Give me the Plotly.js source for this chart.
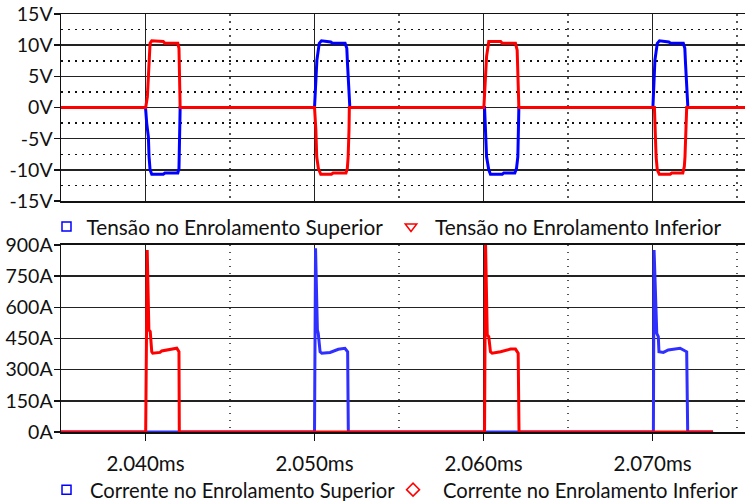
<!DOCTYPE html>
<html>
<head>
<meta charset="utf-8">
<script src="https://cdn.plot.ly/plotly-3.0.1.min.js"></script>
<style>html,body{margin:0;padding:0;background:#fff;}#chart{width:745px;height:501px;}</style>
</head>
<body>
<div id="chart"></div>
<script>
// ---- data (time in ms, value) ----
const tensaoSuperior = [
  [2.035,0],
  [2.04000,0],[2.04007,-2.5],[2.04017,-4.7],[2.04021,-7.9],[2.04027,-10.0],[2.04037,-10.7],[2.04105,-10.7],[2.04115,-10.5],[2.04191,-10.5],[2.04198,-9.8],[2.04200,-7.9],[2.04204,-3.6],[2.04205,0],
  [2.05000,0],[2.05008,4.4],[2.05014,7.6],[2.05028,10.3],[2.05041,10.7],[2.05096,10.5],[2.05106,10.3],[2.05181,10.3],[2.05191,9.5],[2.05195,7.1],[2.05205,1.7],[2.05209,0],
  [2.06006,0],[2.06012,-5.2],[2.06018,-7.9],[2.06031,-10.0],[2.06041,-10.7],[2.06111,-10.7],[2.06120,-10.5],[2.06185,-10.5],[2.06195,-9.8],[2.06203,-7.9],[2.06209,0],
  [2.07002,0],[2.07008,4.4],[2.07014,7.6],[2.07028,10.3],[2.07041,10.7],[2.07096,10.5],[2.07107,10.3],[2.07182,10.3],[2.07191,9.5],[2.07195,7.1],[2.07205,1.7],[2.07209,0],
  [2.0755,0]
];
const tensaoInferior = [
  [2.035,0],
  [2.04001,0],[2.04011,1.7],[2.04017,4.4],[2.04021,7.6],[2.04027,10.3],[2.04037,10.7],[2.04105,10.6],[2.04115,10.3],[2.04191,10.3],[2.04198,9.5],[2.04199,7.1],[2.04204,1.7],[2.04205,0],
  [2.05000,0],[2.05008,-3.6],[2.05013,-7.9],[2.05023,-9.8],[2.05037,-10.7],[2.05100,-10.7],[2.05110,-10.5],[2.05186,-10.5],[2.05194,-9.8],[2.05199,-7.9],[2.05204,-3.6],[2.05206,0],
  [2.06002,0],[2.06012,5.5],[2.06018,8.2],[2.06031,10.6],[2.06101,10.6],[2.06111,10.3],[2.06189,10.3],[2.06199,9.2],[2.06203,4.4],[2.06209,0],
  [2.07011,0],[2.07015,-3.6],[2.07021,-7.9],[2.07028,-10.0],[2.07040,-10.7],[2.07104,-10.7],[2.07114,-10.5],[2.07179,-10.5],[2.07188,-9.5],[2.07192,-7.9],[2.07202,0],
  [2.0755,0]
];
const correnteSuperior = [
  [2.035,0],
  [2.05000,0],[2.05006,884],[2.05017,491],[2.05022,475],[2.05033,386],[2.05043,379],[2.05092,383],[2.05141,398],[2.05180,403],[2.05196,386],[2.05200,0],
  [2.07005,0],[2.07009,876],[2.07025,475],[2.07034,459],[2.07038,386],[2.07064,383],[2.07093,395],[2.07163,403],[2.07202,386],[2.07208,0],
  [2.07358,0]
];
const correnteInferior = [
  [2.035,0],
  [2.04001,0],[2.04010,876],[2.04017,600],[2.04020,491],[2.04028,483],[2.04037,386],[2.04043,379],[2.04086,383],[2.04096,390],[2.04145,398],[2.04185,403],[2.04198,386],[2.04200,0],
  [2.06006,0],[2.06012,905],[2.06022,467],[2.06031,459],[2.06041,386],[2.06051,379],[2.06101,386],[2.06160,399],[2.06189,399],[2.06205,379],[2.06210,0],
  [2.07358,0]
];
const xTickVals = [2.04, 2.05, 2.06, 2.07];
const xTickText = ['2.040ms', '2.050ms', '2.060ms', '2.070ms'];
const vTickVals = [-15, -10, -5, 0, 5, 10, 15];
const vTickText = ['-15V', '-10V', '-5V', '0V', '5V', '10V', '15V'];
const aTickVals = [0, 150, 300, 450, 600, 750, 900];
const aTickText = ['0A', '150A', '300A', '450A', '600A', '750A', '900A'];
const legendNames = ['Tensão no Enrolamento Superior', 'Tensão no Enrolamento Inferior',
                     'Corrente no Enrolamento Superior', 'Corrente no Enrolamento Inferior'];

const xs = d => d.map(p => p[0]);
const ys = d => d.map(p => p[1]);
const FONT = 'Lato, "Noto Sans", sans-serif';
const BLUE = '#0000ff', RED = '#ff0000', BLUE2 = '#2f2fff';

const traces = [
  {x: xs(tensaoSuperior), y: ys(tensaoSuperior), xaxis: 'x', yaxis: 'y', mode: 'lines', line: {color: BLUE, width: 3}, showlegend: false, hoverinfo: 'skip'},
  {x: xs(tensaoInferior), y: ys(tensaoInferior), xaxis: 'x', yaxis: 'y', mode: 'lines', line: {color: RED, width: 3}, showlegend: false, hoverinfo: 'skip'},
  {x: xs(correnteSuperior), y: ys(correnteSuperior), xaxis: 'x2', yaxis: 'y2', mode: 'lines', line: {color: BLUE2, width: 3}, showlegend: false, hoverinfo: 'skip'},
  {x: xs(correnteInferior), y: ys(correnteInferior), xaxis: 'x2', yaxis: 'y2', mode: 'lines', line: {color: RED, width: 3}, showlegend: false, hoverinfo: 'skip'},
  {x: [null], y: [null], xaxis: 'x', yaxis: 'y', mode: 'markers', name: legendNames[0], legend: 'legend',
   marker: {symbol: 'square-open', size: 9, color: BLUE, line: {width: 1.5}}},
  {x: [null], y: [null], xaxis: 'x', yaxis: 'y', mode: 'markers', name: legendNames[1], legend: 'legend2',
   marker: {symbol: 'triangle-down-open', size: 10, color: RED, line: {width: 1.5}}},
  {x: [null], y: [null], xaxis: 'x2', yaxis: 'y2', mode: 'markers', name: legendNames[2], legend: 'legend3',
   marker: {symbol: 'square-open', size: 9, color: BLUE, line: {width: 1.5}}},
  {x: [null], y: [null], xaxis: 'x2', yaxis: 'y2', mode: 'markers', name: legendNames[3], legend: 'legend4',
   marker: {symbol: 'diamond-open', size: 10, color: RED, line: {width: 1.5}}}
];

const gridMajor = {showgrid: true, gridcolor: '#222', gridwidth: 1.5, zeroline: false};
const xMinor = {dtick: 0.005, tick0: 2.035, showgrid: true, gridcolor: '#555', gridwidth: 1.5, griddash: '1.5px,5.5px', ticks: ''};
const xBase = Object.assign({}, gridMajor, {
  range: [2.035, 2.07547], tickmode: 'array', tickvals: xTickVals, ticktext: xTickText,
  showline: true, mirror: true, linecolor: '#111', linewidth: 1.5, minor: xMinor
});
const yBase = Object.assign({}, gridMajor, {
  tickmode: 'array', ticks: 'outside', ticklen: 6, tickwidth: 1.5, tickcolor: '#111',
  showline: true, linecolor: '#111', linewidth: 1.5, ticklabelstandoff: -3,
  tickfont: {family: FONT, size: 19.5, color: '#111'}
});
const legBase = {orientation: 'h', yanchor: 'middle', xanchor: 'left', bgcolor: 'rgba(0,0,0,0)', borderwidth: 0,
  font: {family: FONT, size: 20.8, color: '#111'}, itemclick: false, itemdoubleclick: false};
const legBottom = Object.assign({}, legBase, {font: {family: FONT, size: 20.2, color: '#111'}});

const layout = {
  width: 745, height: 501,
  margin: {l: 61, r: 0, t: 14, b: 69, pad: 0, autoexpand: false},
  paper_bgcolor: '#fff', plot_bgcolor: '#fff',
  font: {family: FONT, size: 19, color: '#111'},
  xaxis: Object.assign({}, xBase, {anchor: 'y', showticklabels: false, ticks: ''}),
  xaxis2: Object.assign({}, xBase, {anchor: 'y2', matches: 'x', ticks: 'outside', ticklen: 7, tickwidth: 1.5, tickcolor: '#111',
    ticklabelstandoff: 6, tickfont: {family: FONT, size: 20.5, color: '#111'}}),
  yaxis: Object.assign({}, yBase, {domain: [0.5526, 1], range: [-15, 15], tickvals: vTickVals, ticktext: vTickText,
    minor: {dtick: 2.5, tick0: 0, showgrid: true, gridcolor: '#111', gridwidth: 1.5, griddash: '1.5px,5.5px', ticks: ''}}),
  yaxis2: Object.assign({}, yBase, {domain: [0, 0.4474], range: [0, 900], tickvals: aTickVals, ticktext: aTickText}),
  legend: Object.assign({}, legBase, {x: -0.0212, y: 0.4904, itemwidth: 30}),
  legend2: Object.assign({}, legBase, {x: 0.4766, y: 0.4904, itemwidth: 38}),
  legend3: Object.assign({}, legBottom, {x: -0.0263, y: -0.1388, itemwidth: 37}),
  legend4: Object.assign({}, legBottom, {x: 0.4708, y: -0.1388, itemwidth: 50}),
  showlegend: true
};

Plotly.newPlot('chart', traces, layout, {staticPlot: true, displayModeBar: false});
</script>
</body>
</html>
